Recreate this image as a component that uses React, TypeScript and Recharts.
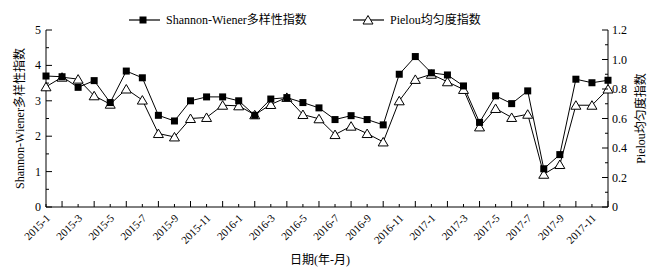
import { LineChart, Line, XAxis, YAxis, Legend } from "recharts";

const months = [
  "2015-1", "2015-2", "2015-3", "2015-4", "2015-5", "2015-6", "2015-7", "2015-8", "2015-9", "2015-10", "2015-11", "2015-12",
  "2016-1", "2016-2", "2016-3", "2016-4", "2016-5", "2016-6", "2016-7", "2016-8", "2016-9", "2016-10", "2016-11", "2016-12",
  "2017-1", "2017-2", "2017-3", "2017-4", "2017-5", "2017-6", "2017-7", "2017-8", "2017-9", "2017-10", "2017-11", "2017-12",
];

const shannon = [
  3.7, 3.68, 3.38, 3.57, 2.95, 3.84, 3.65, 2.59, 2.43, 3.0, 3.11, 3.11,
  3.0, 2.59, 3.05, 3.09, 2.95, 2.8, 2.47, 2.58, 2.47, 2.32, 3.75, 4.25,
  3.79, 3.73, 3.42, 2.39, 3.14, 2.92, 3.28, 1.08, 1.48, 3.61, 3.51, 3.58,
];

const pielou = [
  0.815, 0.88, 0.867, 0.754, 0.697, 0.8, 0.725, 0.498, 0.475, 0.6, 0.607, 0.69,
  0.686, 0.625, 0.695, 0.743, 0.627, 0.598, 0.491, 0.548, 0.498, 0.441, 0.72, 0.865,
  0.9, 0.849, 0.797, 0.543, 0.668, 0.607, 0.629, 0.222, 0.288, 0.69, 0.69, 0.8,
];

const leftTicks = [0, 0.5, 1, 1.5, 2, 2.5, 3, 3.5, 4, 4.5, 5];
const rightTicks = [0, 0.1, 0.2, 0.3, 0.4, 0.5, 0.6, 0.7, 0.8, 0.9, 1.0, 1.1, 1.2];

const data = months.map((m, i) => ({ month: m, shannon: shannon[i], pielou: pielou[i] }));

const FONT = "'Liberation Serif', 'Times New Roman', 'Noto Sans CJK SC', serif";

const Square = (props: any) => {
  const { cx, cy } = props;
  if (cx == null || cy == null) return null;
  return <rect x={cx - 3.5} y={cy - 3.5} width={7} height={7} fill="#000" />;
};

const Triangle = (props: any) => {
  const { cx, cy } = props;
  if (cx == null || cy == null) return null;
  return (
    <path
      d={`M${cx},${cy - 4.5}L${cx + 5},${cy + 4}L${cx - 5},${cy + 4}Z`}
      fill="#fff"
      stroke="#000"
      strokeWidth={1}
    />
  );
};

const XTick = (props: any) => {
  const { x, y, payload, index } = props;
  const labeled = index % 2 === 0;
  return (
    <g>
      <line x1={x} y1={y} x2={x} y2={y - (labeled ? 3 : 6)} stroke="#000" strokeWidth={1} />
      {labeled && (
        <text
          x={x + 3}
          y={y + 10}
          textAnchor="end"
          fontSize={11}
          fontFamily={FONT}
          fill="#000"
          transform={`rotate(-45, ${x + 3}, ${y + 10})`}
          dominantBaseline="middle"
        >
          {payload.value}
        </text>
      )}
    </g>
  );
};

const LeftTick = (props: any) => {
  const { x, y, payload } = props;
  const major = Number.isInteger(payload.value);
  return (
    <g>
      <line x1={x} y1={y} x2={x + (major ? 6 : 3)} y2={y} stroke="#000" strokeWidth={1} />
      {major && (
        <text x={x - 5} y={y} textAnchor="end" dominantBaseline="central" fontSize={12} fontFamily={FONT} fill="#000">
          {payload.value}
        </text>
      )}
    </g>
  );
};

const RightTick = (props: any) => {
  const { x, y, payload } = props;
  const v = Math.round(payload.value * 10);
  const major = v % 2 === 0;
  const label = v === 0 ? "0" : (v / 10).toFixed(1);
  return (
    <g>
      <line x1={x} y1={y} x2={x - (major ? 6 : 3)} y2={y} stroke="#000" strokeWidth={1} />
      {major && (
        <text x={x + 4} y={y} textAnchor="start" dominantBaseline="central" fontSize={12} fontFamily={FONT} fill="#000">
          {label}
        </text>
      )}
    </g>
  );
};

const LegendContent = () => (
  <div style={{ width: 656, height: 30 }}>
    <svg width={656} height={30} style={{ display: "block" }}>
      <line x1={129} y1={20} x2={160} y2={20} stroke="#000" strokeWidth={1.2} />
      <rect x={139.5} y={16.5} width={7} height={7} fill="#000" />
      <text x={166} y={20} dominantBaseline="central" fontSize={12} fontFamily={FONT} fill="#000">
        Shannon-Wiener多样性指数
      </text>
      <line x1={353} y1={20} x2={384} y2={20} stroke="#000" strokeWidth={1.2} />
      <path d="M368,15.5L373,24L363,24Z" fill="#fff" stroke="#000" strokeWidth={1} />
      <text x={390} y={20} dominantBaseline="central" fontSize={12} fontFamily={FONT} fill="#000">
        Pielou均匀度指数
      </text>
    </svg>
  </div>
);

export default function App() {
  return (
    <div style={{ position: "absolute", left: 0, top: 0, width: 656, height: 268, background: "#fff" }}>
      <LineChart width={656} height={268} data={data} margin={{ top: 0, right: 0, bottom: 0, left: 0 }}>
        <Legend verticalAlign="top" align="left" content={<LegendContent />} />
        <XAxis
          dataKey="month"
          scale="point"
          padding={{ left: 0, right: 0 }}
          interval={0}
          tickSize={0}
          tickMargin={0}
          tickLine={false}
          tick={<XTick />}
          height={61}
          stroke="#000"
          label={{ value: "日期(年-月)", position: "insideBottom", offset: 4, dx: -7, fontSize: 12, fontFamily: FONT, fill: "#000" }}
        />
        <YAxis
          yAxisId="left"
          domain={[0, 5]}
          ticks={leftTicks}
          interval={0}
          width={46}
          tickSize={0}
          tickMargin={0}
          tickLine={false}
          tick={<LeftTick />}
          stroke="#000"
          label={{ value: "Shannon-Wiener多样性指数", angle: -90, position: "center", dx: -3, fontSize: 12, fontFamily: FONT, fill: "#000" }}
        />
        <YAxis
          yAxisId="right"
          orientation="right"
          domain={[0, 1.2]}
          ticks={rightTicks}
          interval={0}
          width={48}
          tickSize={0}
          tickMargin={0}
          tickLine={false}
          tick={<RightTick />}
          stroke="#000"
          label={{ value: "Pielou均匀度指数", angle: -90, position: "center", dx: 9, fontSize: 12, fontFamily: FONT, fill: "#000" }}
        />
        <Line
          yAxisId="right"
          dataKey="pielou"
          stroke="#000"
          strokeWidth={1}
          dot={<Triangle />}
          activeDot={false}
          isAnimationActive={false}
        />
        <Line
          yAxisId="left"
          dataKey="shannon"
          stroke="#000"
          strokeWidth={1}
          dot={<Square />}
          activeDot={false}
          isAnimationActive={false}
        />
      </LineChart>
    </div>
  );
}
